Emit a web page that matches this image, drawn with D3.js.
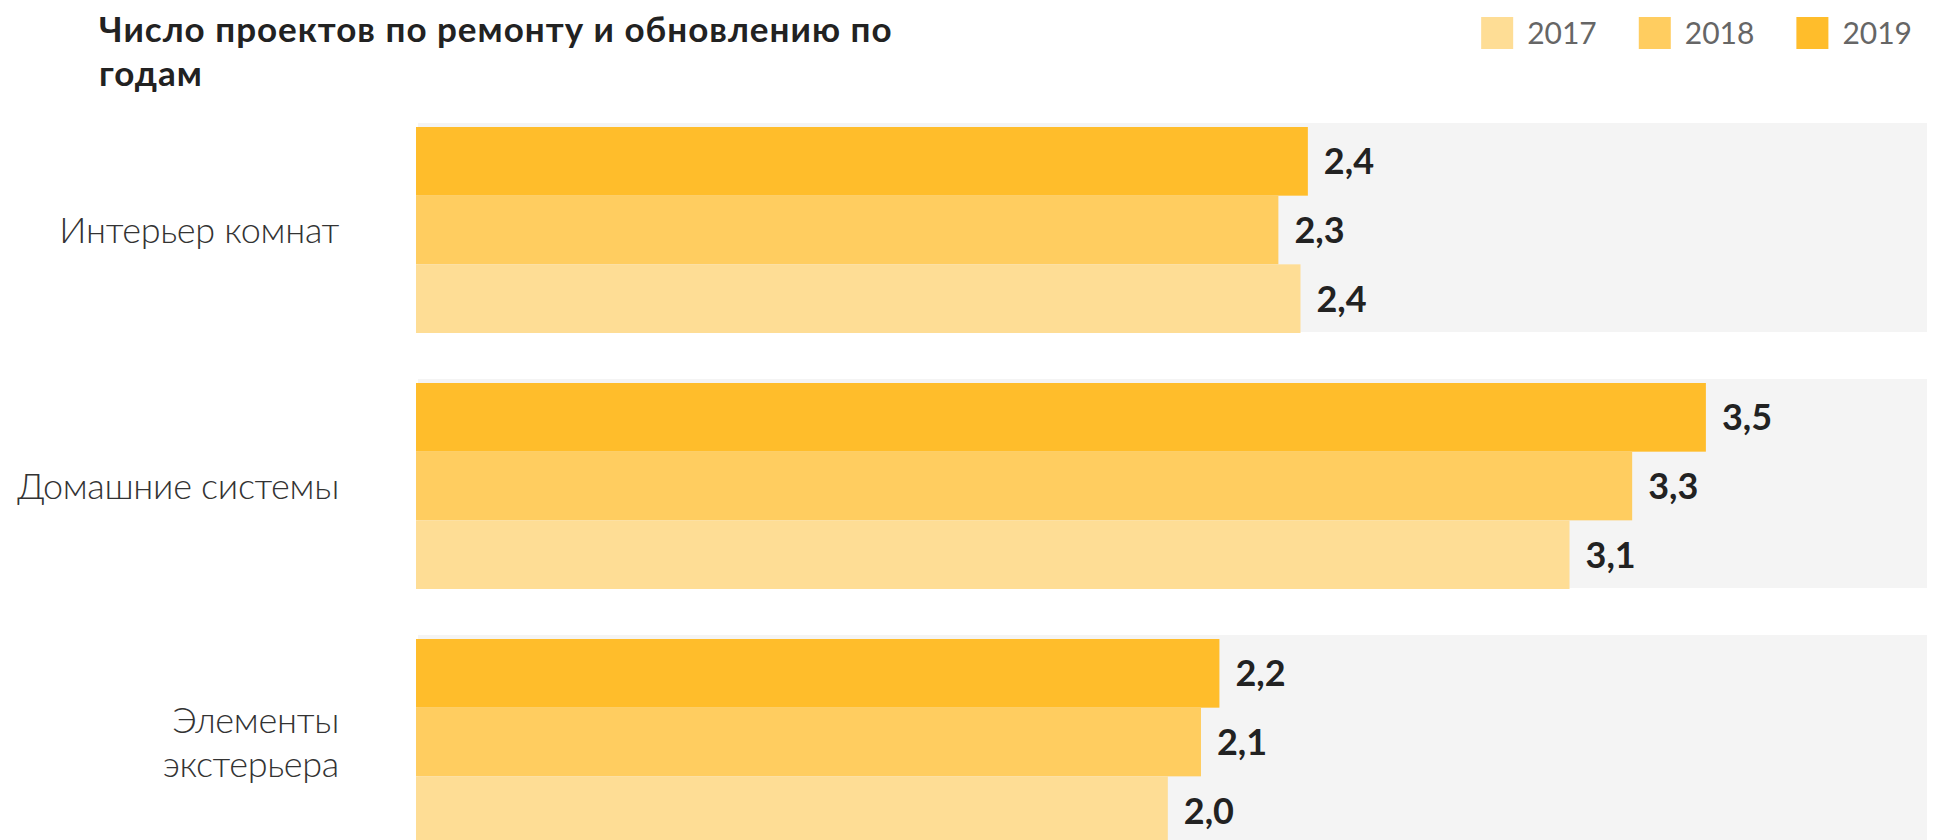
<!DOCTYPE html>
<html>
<head>
<meta charset="utf-8">
<script src="https://cdn.jsdelivr.net/npm/d3@7"></script>
<style>
  html, body { margin: 0; padding: 0; background: #fff; }
  svg { display: block; font-family: Lato, "Open Sans", sans-serif; }
</style>
</head>
<body>
<div id="chart"></div>
<script>
// Число проектов по ремонту и обновлению по годам

const categories = ["Интерьер комнат", "Домашние системы", "Элементы\nэкстерьера"];
const years = ["2019", "2018", "2017"];
const values2019 = [2.42, 3.50, 2.18];
const values2018 = [2.34, 3.30, 2.13];
const values2017 = [2.40, 3.13, 2.04];
const legendYears = ["2017", "2018", "2019"];
const titleLines = ["Число проектов по ремонту и обновлению по", "годам"];

const width = 1947;
const height = 840;

const colors = { "2019": "#FFBD2B", "2018": "#FFCD60", "2017": "#FEDD95" };
const seriesByYear = { "2019": values2019, "2018": values2018, "2017": values2017 };

const svg = d3.select("#chart").append("svg")
    .attr("width", width).attr("height", height);

// --- SCALES ---
const x = d3.scaleLinear().domain([0, 4.1]).range([416, 1927]);

const y = d3.scaleBand()
    .domain(categories)
    .range([127, 845])
    .paddingInner(50 / 256)
    .paddingOuter(0);

const yInner = d3.scaleBand()
    .domain(years)
    .range([0, y.bandwidth()]);

const fmt = d3.formatLocale({ decimal: ",", thousands: " ", grouping: [3], currency: ["", ""] }).format(".1f");

// --- TITLE ---
svg.append("text")
    .attr("x", 99).attr("y", 42)
    .attr("font-size", 35).attr("font-weight", 700).attr("fill", "#222")
    .attr("letter-spacing", 1)
    .selectAll("tspan").data(titleLines).join("tspan")
    .attr("x", 99).attr("dy", (d, i) => i === 0 ? 0 : 44.3)
    .text(d => d);

// --- LEGEND ---
const legend = svg.append("g").attr("class", "legend");
const items = legend.selectAll("g").data(legendYears).join("g");
items.append("rect")
    .attr("width", 32).attr("height", 32).attr("y", 17)
    .attr("fill", d => colors[d]);
items.append("text")
    .attr("x", 46).attr("y", 43.5)
    .attr("font-size", 30).attr("font-weight", 400).attr("fill", "#666")
    .text(d => d);

// lay legend out right to left, last label ending at 1912
let cursor = 1912;
items.nodes().reverse().forEach(node => {
    const w = d3.select(node).select("text").node().getComputedTextLength();
    cursor -= 46 + w;
    d3.select(node).attr("transform", `translate(${cursor},0)`);
    cursor -= 42;
});

// --- GROUPS ---
const groups = svg.append("g").selectAll("g")
    .data(categories).join("g")
    .attr("transform", d => `translate(0,${y(d)})`);

// grey track
groups.append("rect")
    .attr("x", 418).attr("y", -4)
    .attr("width", x.range()[1] - 418)
    .attr("height", y.bandwidth() + 3)
    .attr("fill", "#F4F4F4");

// bars
groups.each(function(cat, ci) {
    const g = d3.select(this);
    const rows = years.map(yr => ({ year: yr, value: seriesByYear[yr][ci] }));

    g.selectAll("rect.bar").data(rows).join("rect")
        .attr("class", "bar")
        .attr("x", x(0))
        .attr("y", d => yInner(d.year))
        .attr("width", d => x(d.value) - x(0))
        .attr("height", yInner.bandwidth())
        .attr("fill", d => colors[d.year]);

    g.selectAll("text.value").data(rows).join("text")
        .attr("class", "value")
        .attr("x", d => x(d.value) + 16)
        .attr("y", d => yInner(d.year) + yInner.bandwidth() / 2 + 13)
        .attr("font-size", 36).attr("font-weight", 700).attr("fill", "#222")
        .text(d => fmt(d.value));

    // category label
    const lines = cat.split("\n");
    const center = y.bandwidth() / 2;
    g.append("text")
        .attr("text-anchor", "end")
        .attr("font-size", 36).attr("font-weight", 300).attr("fill", "#333")
        .attr("letter-spacing", -0.3)
        .selectAll("tspan").data(lines).join("tspan")
        .attr("x", 339)
        .attr("y", (d, i) => center + 12.7 - (lines.length - 1) * 22.15 + i * 44.3)
        .text(d => d);
});
</script>
</body>
</html>
